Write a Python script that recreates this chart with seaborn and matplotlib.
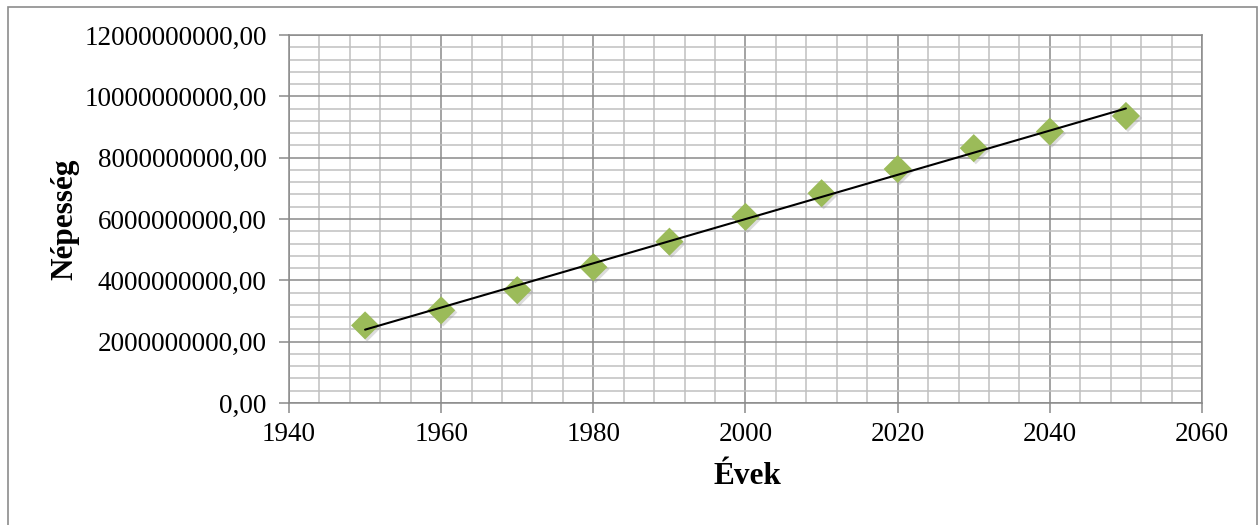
import numpy as np
import pandas as pd
import seaborn as sns
import matplotlib
matplotlib.use("Agg")
import matplotlib.pyplot as plt
from matplotlib.ticker import MultipleLocator, FuncFormatter
from matplotlib.patches import Rectangle
import matplotlib.patheffects as pe

# World population by decade (with projections)
years = [1950, 1960, 1970, 1980, 1990, 2000, 2010, 2020, 2030, 2040, 2050]
population = [2.53e9, 3.02e9, 3.68e9, 4.43e9, 5.26e9, 6.07e9, 6.84e9,
              7.63e9, 8.31e9, 8.85e9, 9.36e9]
x_label = "Évek"
y_label = "Népesség"

df = pd.DataFrame({"ev": years, "nepesseg": population})

sns.set_theme(style="white")
plt.rcParams["font.family"] = ["Liberation Serif", "DejaVu Serif"]

fig = plt.figure(figsize=(12.58, 5.25), dpi=100)
ax = fig.add_axes([289 / 1258, 1 - 403 / 525, 913 / 1258, 368 / 525])

# Outer chart frame
fig.patches.append(Rectangle((8 / 1258, -0.05), 1249 / 1258, 1.05 - 7 / 525,
                             transform=fig.transFigure, fill=False,
                             edgecolor="#8c8c8c", linewidth=1.2, zorder=0))

# Linear trend line fitted to the data
coef = np.polyfit(df["ev"], df["nepesseg"], 1)
trend = pd.DataFrame({"ev": [years[0], years[-1]]})
trend["nepesseg"] = np.polyval(coef, trend["ev"])

sns.scatterplot(data=df, x="ev", y="nepesseg", ax=ax, marker="D", s=205,
                color="#9bbb59", edgecolor="none", linewidth=0, zorder=3,
                path_effects=[pe.SimplePatchShadow(offset=(1.5, -1.5),
                                                   shadow_rgbFace=(0.55, 0.55, 0.55),
                                                   alpha=0.3),
                              pe.Normal()])
sns.lineplot(data=trend, x="ev", y="nepesseg", ax=ax, color="black",
             linewidth=1.5, zorder=4)

ax.set_xlim(1940, 2060)
ax.set_ylim(0, 12e9)
ax.xaxis.set_major_locator(MultipleLocator(20))
ax.xaxis.set_minor_locator(MultipleLocator(4))
ax.yaxis.set_major_locator(MultipleLocator(2e9))
ax.yaxis.set_minor_locator(MultipleLocator(4e8))
ax.yaxis.set_major_formatter(FuncFormatter(lambda v, p: f"{v:.2f}".replace(".", ",")))

ax.grid(which="major", color="#8a8a8a", linewidth=1.1)
ax.grid(which="minor", color="#c0c0c0", linewidth=1.1)
ax.set_axisbelow(True)

for s in ax.spines.values():
    s.set_color("#8a8a8a")
    s.set_linewidth(1.1)

ax.tick_params(which="major", direction="out", length=7, width=1.1,
               color="#8a8a8a", labelsize=19.5, labelcolor="black",
               bottom=True, left=True)
ax.tick_params(axis="y", pad=9)
ax.tick_params(axis="x", pad=7)
ax.tick_params(which="minor", length=0)

ax.set_xlabel(x_label, fontsize=22.5, fontweight="bold", color="black")
ax.set_ylabel(y_label, fontsize=22.5, fontweight="bold", color="black")
ax.xaxis.set_label_coords(0.5016, -0.201)
ax.xaxis.label.set_va("center")
ax.yaxis.set_label_coords(-0.246, 0.5)
ax.yaxis.label.set_va("center")

fig.savefig("out.png", dpi=100)
